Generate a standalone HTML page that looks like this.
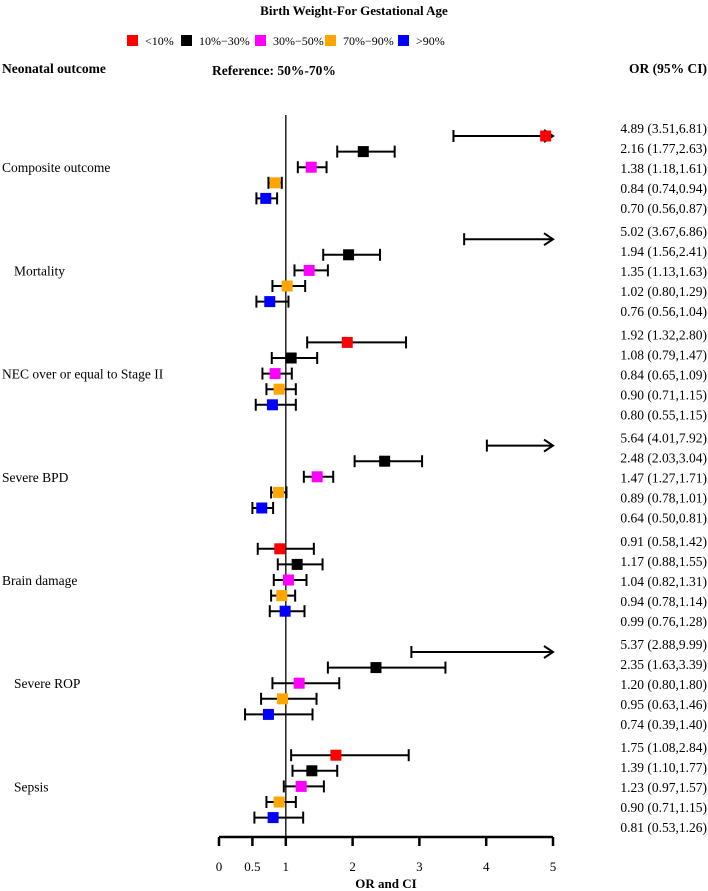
<!DOCTYPE html>
<html><head><meta charset="utf-8"><style>
body{margin:0;background:#fff}
svg{display:block;font-family:"Liberation Serif",serif}
</style></head><body>
<svg id="c" width="708" height="891" viewBox="0 0 708 891">
<text x="354" y="15" text-anchor="middle" font-size="13" font-weight="bold">Birth Weight-For Gestational Age</text>
<g id="legend"></g>
<text x="2" y="73" font-size="13.5" font-weight="bold">Neonatal outcome</text>
<text x="212" y="75" font-size="13.5" font-weight="bold">Reference:  50%-70%</text>
<text x="707" y="73" text-anchor="end" font-size="13.5" font-weight="bold">OR (95% CI)</text>
<g id="plot"></g>
</svg>
<script>
const outcomes=["Composite outcome","Mortality","NEC over or equal to Stage II","Severe BPD","Brain damage","Severe ROP","Sepsis"];
const groups=["<10%","10%\u221230%","30%\u221250%","70%\u221290%",">90%"];
const colors=["#ff0000","#000000","#ff00ff","#ffa500","#0000ff"];
const orVals=[[4.89,2.16,1.38,0.84,0.70],[5.02,1.94,1.35,1.02,0.76],[1.92,1.08,0.84,0.90,0.80],[5.64,2.48,1.47,0.89,0.64],[0.91,1.17,1.04,0.94,0.99],[5.37,2.35,1.20,0.95,0.74],[1.75,1.39,1.23,0.90,0.81]];
const loVals=[[3.51,1.77,1.18,0.74,0.56],[3.67,1.56,1.13,0.80,0.56],[1.32,0.79,0.65,0.71,0.55],[4.01,2.03,1.27,0.78,0.50],[0.58,0.88,0.82,0.78,0.76],[2.88,1.63,0.80,0.63,0.39],[1.08,1.10,0.97,0.71,0.53]];
const hiVals=[[6.81,2.63,1.61,0.94,0.87],[6.86,2.41,1.63,1.29,1.04],[2.80,1.47,1.09,1.15,1.15],[7.92,3.04,1.71,1.01,0.81],[1.42,1.55,1.31,1.14,1.28],[9.99,3.39,1.80,1.46,1.40],[2.84,1.77,1.57,1.15,1.26]];
const xTicks=[0,0.5,1,2,3,4,5];
const labelIndent=[2,14,2,2,2,14,14];

const NS="http://www.w3.org/2000/svg";
const svg=document.getElementById('c'),plot=document.getElementById('plot'),leg=document.getElementById('legend');
const X0=219,X1=553,XMAX=5,AXY=837;
const xs=v=>X0+(Math.min(v,XMAX))/XMAX*(X1-X0);
const gy=g=>136+g*103.2;
const ry=(g,i)=>gy(g)+i*15.6;
function mk(tag,at,parent){const e=document.createElementNS(NS,tag);for(const k in at)e.setAttribute(k,at[k]);(parent||plot).appendChild(e);return e;}

const legX=[127,181,255,325,398];
groups.forEach((g,i)=>{
 const r=mk('rect',{x:legX[i],y:35,width:11,height:11,fill:colors[i]},leg);
 
 
 const t=mk('text',{x:legX[i]+18,y:45,'font-size':'12'},leg);t.textContent=g;
 
 
});

const rl=mk('line',{x1:xs(1),x2:xs(1),y1:115,y2:AXY,stroke:'#222','stroke-width':1.5});



const ax=mk('line',{x1:X0,x2:X1,y1:AXY,y2:AXY,stroke:'#000','stroke-width':2.5});


xTicks.forEach(v=>{
 const tk=mk('line',{x1:xs(v),x2:xs(v),y1:AXY,y2:AXY+9,stroke:'#000','stroke-width':2.5});
 
 
 const t=mk('text',{x:xs(v),y:871,'text-anchor':'middle','font-size':'13'});t.textContent=String(v);
 
 
});
const at=mk('text',{x:(X0+X1)/2,y:888,'text-anchor':'middle','font-size':'13','font-weight':'bold'});at.textContent='OR and CI';



outcomes.forEach((o,g)=>{
 const lt=mk('text',{x:labelIndent[g],y:ry(g,2)+5,'font-size':'13.5'});lt.textContent=o;
 
 
 for(let i=0;i<5;i++){
  const y=ry(g,i),or=orVals[g][i],lo=loVals[g][i],hi=hiVals[g][i];
  const xl=xs(lo),xh=xs(hi);
  const ln=mk('line',{x1:xl,x2:xh,y1:y,y2:y,stroke:'#000','stroke-width':2});
  
  
  mk('line',{x1:xl,x2:xl,y1:y-6,y2:y+6,stroke:'#000','stroke-width':2});
  if(hi>XMAX){
   mk('polyline',{points:`${xh-9},${y-6} ${xh},${y} ${xh-9},${y+6}`,fill:'none',stroke:'#000','stroke-width':2});
  }else{
   mk('line',{x1:xh,x2:xh,y1:y-6,y2:y+6,stroke:'#000','stroke-width':2});
  }
  if(or<=XMAX){
   const s=mk('rect',{x:xs(or)-5.5,y:y-5.5,width:11,height:11,fill:colors[i]});
   
   
  }
  const t=mk('text',{x:707,y:gy(g)-8+i*20+5,'text-anchor':'end','font-size':'13.5'});
  t.textContent=or.toFixed(2)+' ('+lo.toFixed(2)+','+hi.toFixed(2)+')';
  
  
 }
});
</script>
</body></html>
